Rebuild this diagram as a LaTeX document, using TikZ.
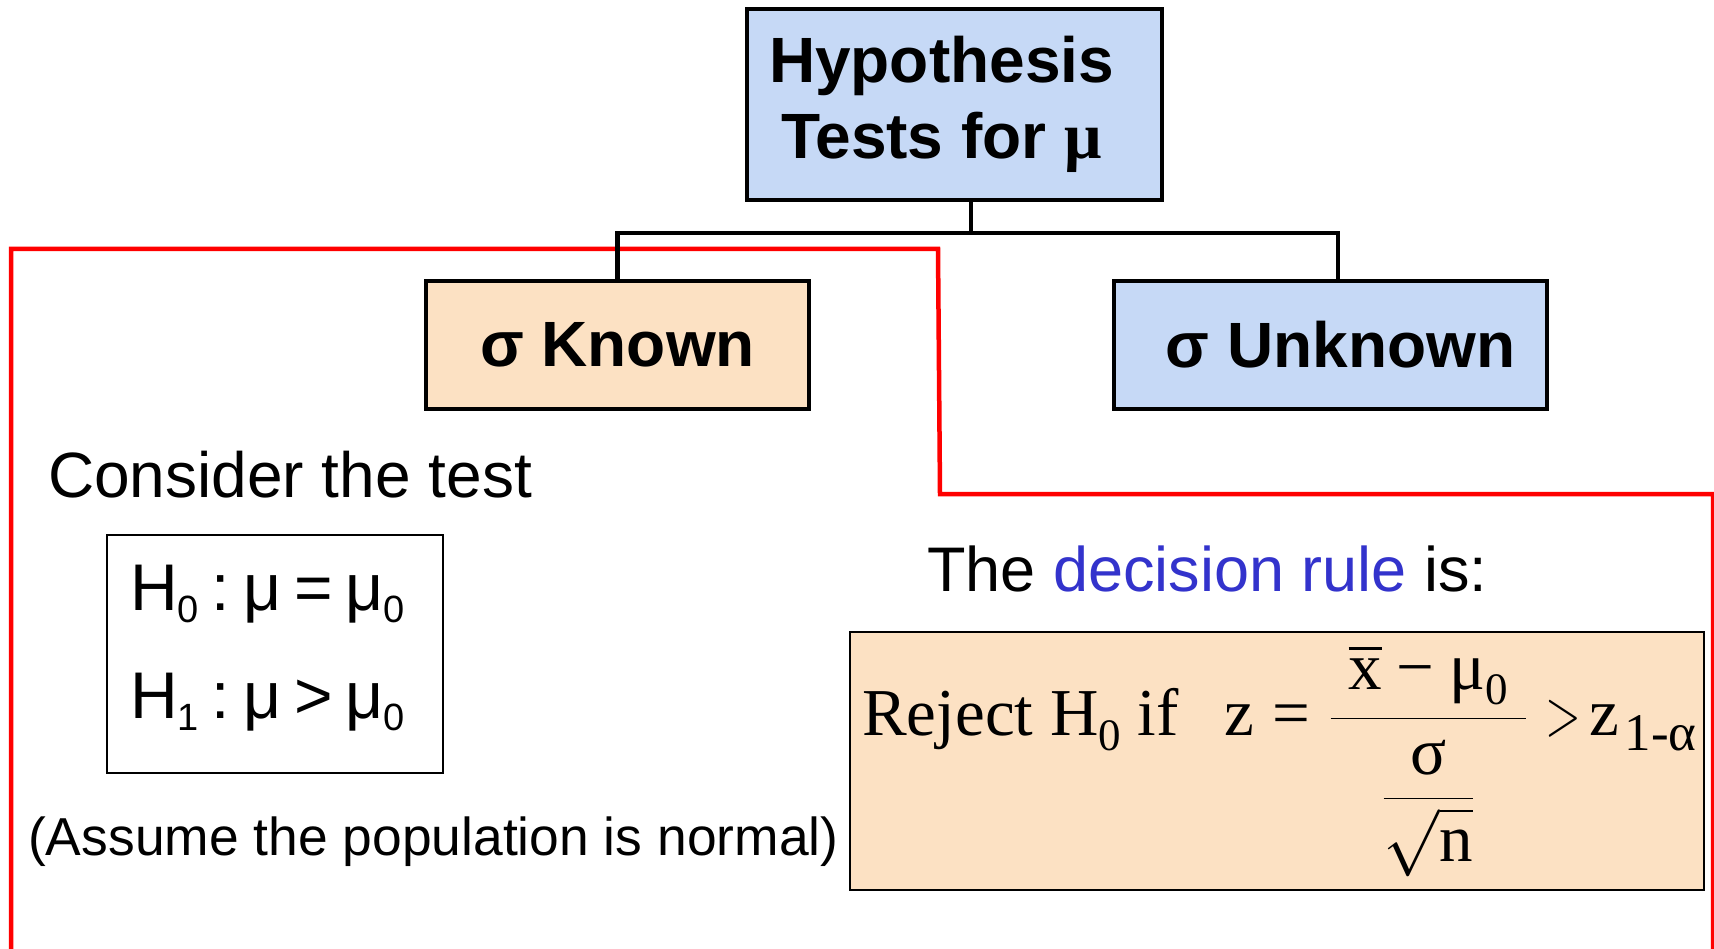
\RequirePackage{fix-cm}
\documentclass[tikz,border=0pt]{standalone}
\usepackage{amsmath}
\usepackage{graphicx}
\usepackage{fontspec}
\setmainfont{Liberation Sans}
\newfontfamily\serifrm{Liberation Serif}
\definecolor{boxblue}{HTML}{C6D9F6}
\definecolor{boxpeach}{HTML}{FCE1C3}
\definecolor{rulered}{HTML}{FF0000}
\definecolor{ruleblue}{HTML}{3333CC}
\newcommand{\fs}[2]{\fontsize{#1}{#2}\selectfont}
\newcommand{\lowsub}[1]{\raisebox{-12pt}{\fontsize{38}{38}\selectfont #1}}
\newcommand{\serifsub}[1]{\raisebox{-15pt}{\fontsize{45}{45}\selectfont #1}}
\begin{document}
\begin{tikzpicture}[x=1pt,y=-1pt,
  heavybox/.style={draw=black,line width=4.5pt,inner sep=0pt},
  thinbox/.style={draw=black,line width=2pt,inner sep=0pt},
  conn/.style={draw=black,line width=4.5pt},
  redline/.style={draw=rulered,line width=4.5pt},
  txt/.style={inner sep=0pt,anchor=base west}]
\useasboundingbox (0,0) rectangle (1714,949);
\fill[white] (0,0) rectangle (1714,949);

% red outline
\draw[redline] (11,955) -- (11,249) -- (938,249) -- (940,494) -- (1713,494) -- (1713,955);

% boxes
\node[heavybox,fill=boxblue,minimum width=415pt,minimum height=191pt,
      align=center,font=\bfseries\fs{64}{76}] (top) at (954.5,104.5)
      {Hypothesis\hspace*{26pt}\\Tests for {\serifrm\bfseries\fs{66}{76}μ}\hspace*{26pt}};
\node[heavybox,fill=boxpeach,minimum width=383pt,minimum height=128pt,
      font=\bfseries\fs{64}{76}] (known) at (617.5,345) {σ Known};
\node[heavybox,fill=boxblue,minimum width=433pt,minimum height=128pt,
      font=\bfseries\fs{64}{76}] (unknown) at (1330.5,345) {\hspace*{20pt}σ Unknown};

% connectors
\coordinate (j) at (971,233);
\draw[conn] ([xshift=16.5pt]top.south) -- (j);
\draw[conn] (known.north) |- ([xshift=7.5pt]unknown.north |- j) -- ([xshift=7.5pt]unknown.north);

% left part
\node[txt,font=\fs{64}{76}] (consider) at (48,497) {Consider the test};
\node[thinbox,minimum width=336pt,minimum height=238pt] (hyp) at (275,654) {};
\node[txt,font=\fs{66}{76}] (h0) at (130,610) {H\lowsub{0}\hspace{13pt}:\hspace{13pt}μ\hspace{13pt}=\hspace{13pt}μ\lowsub{0}};
\node[txt,font=\fs{66}{76}] (h1) at (130,718) {H\lowsub{1}\hspace{13pt}:\hspace{13pt}μ\hspace{13pt}>\hspace{13pt}μ\lowsub{0}};
\node[txt,font=\fs{53.4}{60}] (assume) at (28,855) {(Assume the population is normal)};

% right part
\node[txt,font=\fs{63}{70}] (dectext) at (927,591) {The \textcolor{ruleblue}{decision rule} is:};
\node[thinbox,fill=boxpeach,minimum width=854pt,minimum height=258pt] (rulebox) at (1277,761) {};
\node[txt,font=\serifrm\fs{67}{70}] (formula) at (862,735)
  {Reject H\serifsub{0} if\hspace{46pt}$\text{z}\mathrel{\text{=}}\dfrac{\hspace{18pt}\text{\makebox[0pt][l]{\raisebox{40pt}{\rule{33pt}{3pt}}}x}\mathbin{\text{−}}\text{μ\serifsub{0}}\hspace{18pt}}{\dfrac{\raisebox{-5pt}{\text{σ}}\rule{0pt}{48pt}}{\sqrt{\text{n}}}}\mathrel{\scalebox{0.7}[1]{$>$}}\mkern-3mu\text{z\hspace{6pt}{\fontsize{53}{53}\selectfont\raisebox{-15pt}{1-α}}}$};
\end{tikzpicture}
\end{document}
